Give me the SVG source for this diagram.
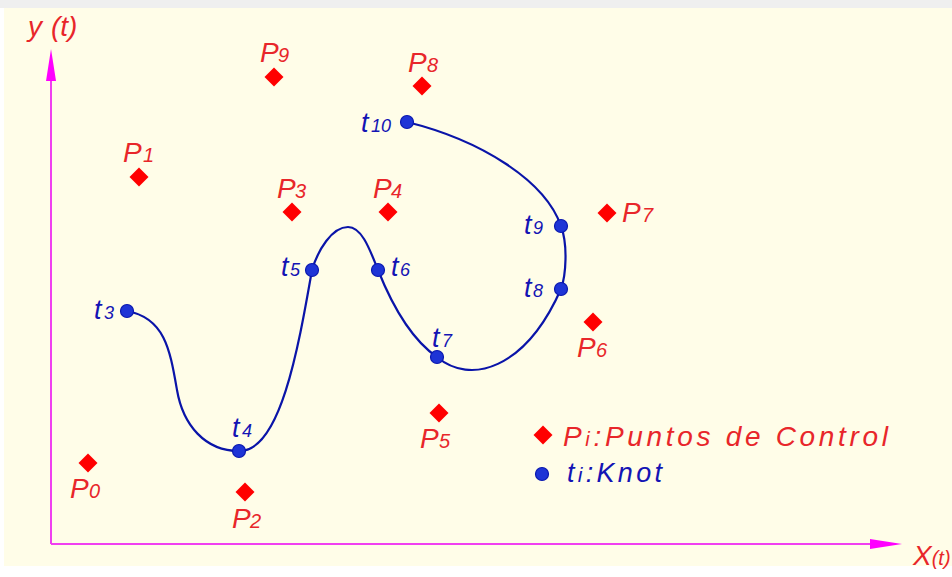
<svg xmlns="http://www.w3.org/2000/svg" width="952" height="577" viewBox="0 0 952 577">
<style>
.pl{font-family:"Liberation Sans",Arial,sans-serif;font-style:italic;fill:#E8262A;font-size:28px}
.ps{font-size:20px}
.tl{font-family:"Liberation Sans",Arial,sans-serif;font-style:italic;fill:#1414B4;font-size:27px}
.ts{font-size:18px}
.cp{fill:#FF0000}
.kn{fill:#1E34D6;stroke:#0A18B0;stroke-width:1.2}
.ax{stroke:#F040F0;stroke-width:2;fill:none}
.ah{fill:#FF00FF}
</style>
<defs>
<path id="dia" d="M0,-9.5 L9.5,0 L0,9.5 L-9.5,0 Z"/>
</defs>
<rect x="0" y="0" width="952" height="577" fill="#FFFFFF"/>
<rect x="0" y="0" width="952" height="8" fill="#EFEFEF"/>
<rect x="4" y="8" width="948" height="558" fill="#FFFDE8"/>
<g id="axes">
<line class="ax" x1="51" y1="544" x2="51" y2="76"/>
<line class="ax" x1="51" y1="544" x2="874" y2="544"/>
<path class="ah" d="M51,49 L56,81 L46,81 Z"/>
<path class="ah" d="M902,544 L870,539 L870,549 Z"/>
<text class="pl" x="28" y="36" font-size="32">y</text>
<text class="pl" x="51" y="36" font-size="20">(t)</text>
<text class="pl" x="913" y="565" font-size="23">X<tspan font-size="20">(t)</tspan></text>
</g>
<g id="curve">
<path fill="none" stroke="#0A14A8" stroke-width="2.2" d="M127,311 C165,318 170,350 177,390 C183,425 205,451 239,451 C280,452 298,350 312,270 C318,250 332,227 348,227 C362,227 370,250 378,270 C386,290 405,335 437,357 C470,385 525,370 561,289 C566,275 568,245 561,226 C545,180 480,140 407,122"/>
</g>
<g id="P0"><use href="#dia" class="cp" x="88" y="463"/><text class="pl" x="70" y="498">P<tspan class="ps" x="89">0</tspan></text></g>
<g id="P1"><use href="#dia" class="cp" x="139" y="177"/><text class="pl" x="123" y="162">P<tspan class="ps" x="143">1</tspan></text></g>
<g id="P2"><use href="#dia" class="cp" x="245" y="492"/><text class="pl" x="232" y="528">P<tspan class="ps" x="250">2</tspan></text></g>
<g id="P3"><use href="#dia" class="cp" x="292" y="212"/><text class="pl" x="277" y="198">P<tspan class="ps" x="295">3</tspan></text></g>
<g id="P4"><use href="#dia" class="cp" x="388" y="212"/><text class="pl" x="373" y="198">P<tspan class="ps" x="391">4</tspan></text></g>
<g id="P5"><use href="#dia" class="cp" x="439" y="413"/><text class="pl" x="420" y="448">P<tspan class="ps" x="439">5</tspan></text></g>
<g id="P6"><use href="#dia" class="cp" x="593" y="322"/><text class="pl" x="577" y="357">P<tspan class="ps" x="596">6</tspan></text></g>
<g id="P7"><use href="#dia" class="cp" x="607" y="213"/><text class="pl" x="622" y="222">P<tspan class="ps" x="642">7</tspan></text></g>
<g id="P8"><use href="#dia" class="cp" x="422" y="86"/><text class="pl" x="408" y="72">P<tspan class="ps" x="427">8</tspan></text></g>
<g id="P9"><use href="#dia" class="cp" x="274" y="77"/><text class="pl" x="260" y="62">P<tspan class="ps" x="278">9</tspan></text></g>
<g id="t3"><circle class="kn" cx="127" cy="311" r="6.5"/><text class="tl" x="94" y="319">t<tspan class="ts" x="104">3</tspan></text></g>
<g id="t4"><circle class="kn" cx="239" cy="451" r="6.5"/><text class="tl" x="232" y="437">t<tspan class="ts" x="242">4</tspan></text></g>
<g id="t5"><circle class="kn" cx="312" cy="270" r="6.5"/><text class="tl" x="281" y="276">t<tspan class="ts" x="290">5</tspan></text></g>
<g id="t6"><circle class="kn" cx="378" cy="270" r="6.5"/><text class="tl" x="391" y="276">t<tspan class="ts" x="400">6</tspan></text></g>
<g id="t7"><circle class="kn" cx="437" cy="357" r="6.5"/><text class="tl" x="432" y="347">t<tspan class="ts" x="442">7</tspan></text></g>
<g id="t8"><circle class="kn" cx="561" cy="289" r="6.5"/><text class="tl" x="524" y="297">t<tspan class="ts" x="533">8</tspan></text></g>
<g id="t9"><circle class="kn" cx="561" cy="226" r="6.5"/><text class="tl" x="524" y="234">t<tspan class="ts" x="533">9</tspan></text></g>
<g id="t10"><circle class="kn" cx="407" cy="122" r="6.5"/><text class="tl" x="361" y="132">t<tspan class="ts" x="371">10</tspan></text></g>
<g id="legend">
<use href="#dia" class="cp" x="543" y="435"/>
<text class="pl" x="563" y="446" font-size="29" textLength="325" lengthAdjust="spacing">P<tspan font-size="20">i</tspan>:Puntos  de  Control</text>
<circle class="kn" cx="542" cy="474" r="6.5"/>
<text class="tl" x="567" y="482" font-size="31" textLength="95" lengthAdjust="spacing">t<tspan font-size="21">i</tspan>:Knot</text>
</g>
</svg>
